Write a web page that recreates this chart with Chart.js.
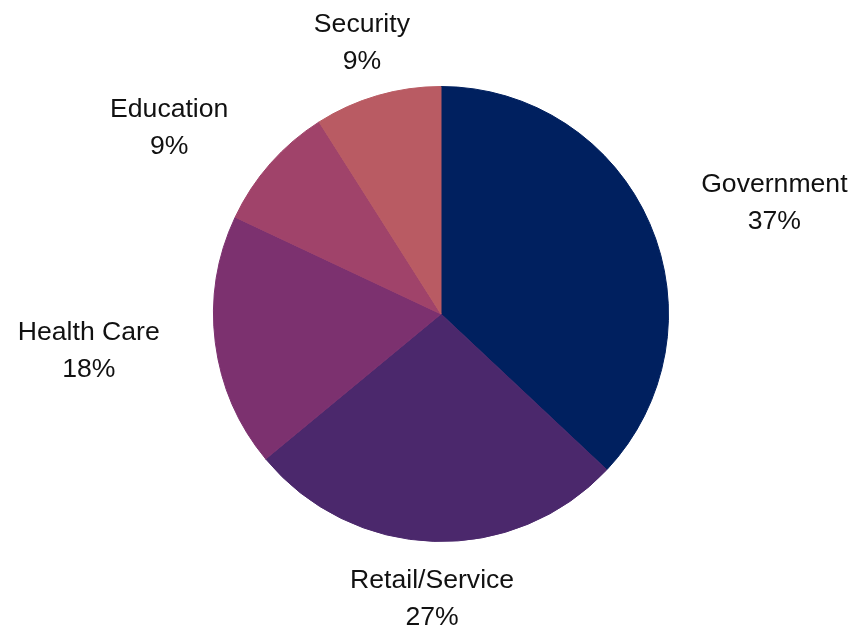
<!DOCTYPE html>
<html>
<head>
<meta charset="utf-8">
<script src="https://cdn.jsdelivr.net/npm/chart.js@4/dist/chart.umd.min.js"></script>
<style>
  html, body { margin: 0; padding: 0; background: #ffffff; }
  #wrap { width: 853px; height: 627px; position: relative; }
</style>
</head>
<body>
<div id="wrap"><canvas id="pieChart"></canvas></div>
<script>
var sectors = ['Government', 'Retail/Service', 'Health Care', 'Education', 'Security'];
var shares = [37, 27, 18, 9, 9];
var sliceColors = ['#00205f', '#4b286c', '#7c316f', '#a0436a', '#b95b63'];

// outside labels: name on top line, percent below
var outsideLabels = {
  id: 'outsideLabels',
  afterDatasetsDraw: function(chart) {
    var ctx = chart.ctx;
    var meta = chart.getDatasetMeta(0);
    var total = shares.reduce(function(a, b) { return a + b; }, 0);
    ctx.save();
    ctx.font = "26.6px 'Liberation Sans', Arial, sans-serif";
    ctx.fillStyle = '#111111';
    ctx.textBaseline = 'middle';
    meta.data.forEach(function(arc, i) {
      var mid = (arc.startAngle + arc.endAngle) / 2;
      var r = arc.outerRadius + 56;
      var px = arc.x + Math.cos(mid) * r;
      var py = arc.y + Math.sin(mid) * r + 1.5;
      var c = Math.cos(mid);
      if (Math.abs(c) < 0.5) ctx.textAlign = 'center';
      else ctx.textAlign = c > 0 ? 'left' : 'right';
      var pct = Math.round(shares[i] / total * 100) + '%';
      var w1 = ctx.measureText(sectors[i]).width;
      var w2 = ctx.measureText(pct).width;
      var x2 = px;
      if (ctx.textAlign === 'left') x2 = px + (w1 - w2) / 2;
      if (ctx.textAlign === 'right') x2 = px - (w1 - w2) / 2;
      ctx.fillText(sectors[i], px, py - 18.5);
      ctx.fillText(pct, x2, py + 18.5);
    });
    ctx.restore();
  }
};

new Chart(document.getElementById('pieChart').getContext('2d'), {
  type: 'pie',
  data: {
    labels: sectors,
    datasets: [{ data: shares, backgroundColor: sliceColors, borderColor: sliceColors, borderWidth: 1 }]
  },
  options: {
    responsive: true,
    maintainAspectRatio: false,
    animation: false,
    layout: { padding: { left: 213, right: 184, top: 86, bottom: 85 } },
    plugins: { legend: { display: false }, tooltip: { enabled: false } }
  },
  plugins: [outsideLabels]
});
</script>
</body>
</html>
